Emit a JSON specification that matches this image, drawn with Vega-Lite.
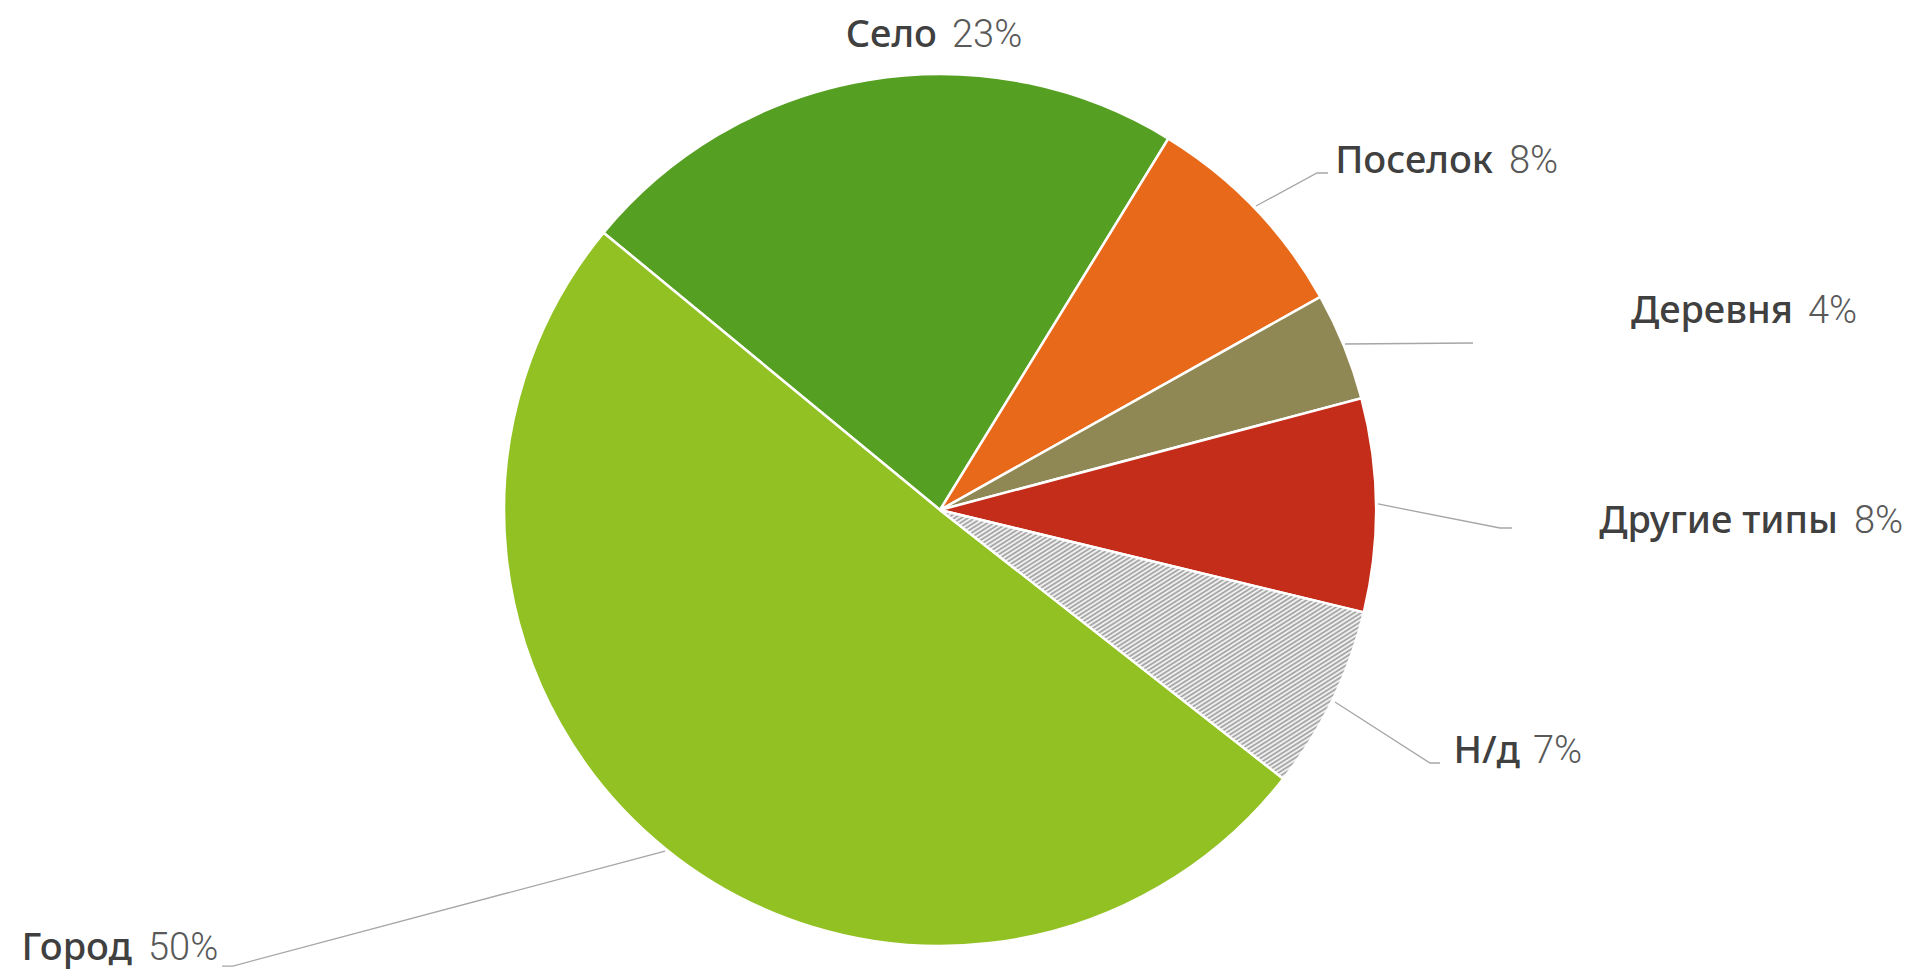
{
  "$schema": "https://vega.github.io/schema/vega-lite/v6.json",
  "width": 1912,
  "height": 971,
  "autosize": {"type": "fit", "contains": "padding"},
  "padding": 0,
  "background": "#ffffff",
  "config": {"view": {"stroke": null}},
  "datasets": {
    "slices": [
      {"category": "Село", "value": 22.8, "order": 1},
      {"category": "Поселок", "value": 8.1, "order": 2},
      {"category": "Деревня", "value": 4.0, "order": 3},
      {"category": "Другие типы", "value": 7.9, "order": 4},
      {"category": "Н/д", "value": 6.8, "order": 5},
      {"category": "Город", "value": 50.4, "order": 6}
    ],
    "labels": [
      {"name": "Село", "pct": "23%", "nx": -0.0069, "px": 0.0275, "y": 1.0619},
      {"name": "Поселок", "pct": "8%", "nx": 1.2683, "px": 1.305, "y": 0.7729},
      {"name": "Деревня", "pct": "4%", "nx": 1.9564, "px": 1.9908, "y": 0.4289},
      {"name": "Другие типы", "pct": "8%", "nx": 2.0596, "px": 2.0963, "y": -0.0528},
      {"name": "Н/д", "pct": "7%", "nx": 1.3303, "px": 1.3601, "y": -0.5803},
      {"name": "Город", "pct": "50%", "nx": -1.8532, "px": -1.8165, "y": -1.0321}
    ],
    "leaders": [
      {"label": "Поселок", "i": 0, "x": 0.7248, "y": 0.6972},
      {"label": "Поселок", "i": 1, "x": 0.8647, "y": 0.7729},
      {"label": "Поселок", "i": 2, "x": 0.8899, "y": 0.7729},
      {"label": "Деревня", "i": 0, "x": 0.9289, "y": 0.3807},
      {"label": "Деревня", "i": 1, "x": 1.2225, "y": 0.383},
      {"label": "Другие типы", "i": 0, "x": 1.0046, "y": 0.0138},
      {"label": "Другие типы", "i": 1, "x": 1.2844, "y": -0.0413},
      {"label": "Другие типы", "i": 2, "x": 1.3119, "y": -0.0413},
      {"label": "Н/д", "i": 0, "x": 0.906, "y": -0.4404},
      {"label": "Н/д", "i": 1, "x": 1.1239, "y": -0.5803},
      {"label": "Н/д", "i": 2, "x": 1.1468, "y": -0.5803},
      {"label": "Город", "i": 0, "x": -0.6307, "y": -0.7821},
      {"label": "Город", "i": 1, "x": -1.6216, "y": -1.0459},
      {"label": "Город", "i": 2, "x": -1.6468, "y": -1.0459}
    ]
  },
  "layer": [
    {
      "data": {"name": "slices"},
      "transform": [
        {"stack": "value", "groupby": [], "sort": [{"field": "order", "order": "ascending"}], "as": ["v0", "v1"]},
        {"filter": "datum.category !== 'Н/д'"}
      ],
      "mark": {"type": "arc", "outerRadius": 436, "stroke": "#ffffff", "strokeWidth": 2.5},
      "encoding": {
        "x": {"datum": 0, "type": "quantitative", "scale": {"domain": [-2.156, 2.2294], "nice": false, "zero": false}, "axis": null},
        "y": {"datum": 0, "type": "quantitative", "scale": {"domain": [-1.0573, 1.1697], "nice": false, "zero": false}, "axis": null},
        "theta": {"field": "v0", "type": "quantitative", "stack": null, "scale": {"domain": [0, 100], "range": [5.4018, 11.685]}},
        "theta2": {"field": "v1"},
        "color": {
          "field": "category",
          "type": "nominal",
          "scale": {
            "domain": ["Село", "Поселок", "Деревня", "Другие типы", "Город"],
            "range": ["#55a022", "#e8691a", "#8f8754", "#c42d19", "#92c124"]
          },
          "legend": null
        }
      }
    },
    {
      "data": {"name": "slices"},
      "transform": [
        {"stack": "value", "groupby": [], "sort": [{"field": "order", "order": "ascending"}], "as": ["v0", "v1"]},
        {"filter": "datum.category === 'Н/д'"}
      ],
      "mark": {
        "type": "arc",
        "outerRadius": 436,
        "stroke": "#ffffff",
        "strokeWidth": 2.5,
        "fill": {
          "gradient": "linear",
          "x1": 0, "y1": 0, "x2": 1, "y2": 1,
          "stops": [
            {"offset": 0, "color": "#999"},{"offset": 0.004, "color": "#fff"},{"offset": 0.008, "color": "#999"},{"offset": 0.012, "color": "#fff"},{"offset": 0.016, "color": "#999"},{"offset": 0.02, "color": "#fff"},{"offset": 0.024, "color": "#999"},{"offset": 0.028, "color": "#fff"},{"offset": 0.032, "color": "#999"},{"offset": 0.036, "color": "#fff"},
            {"offset": 0.04, "color": "#999"},{"offset": 0.044, "color": "#fff"},{"offset": 0.048, "color": "#999"},{"offset": 0.052, "color": "#fff"},{"offset": 0.056, "color": "#999"},{"offset": 0.06, "color": "#fff"},{"offset": 0.064, "color": "#999"},{"offset": 0.068, "color": "#fff"},{"offset": 0.072, "color": "#999"},{"offset": 0.076, "color": "#fff"},
            {"offset": 0.08, "color": "#999"},{"offset": 0.084, "color": "#fff"},{"offset": 0.088, "color": "#999"},{"offset": 0.092, "color": "#fff"},{"offset": 0.096, "color": "#999"},{"offset": 0.1, "color": "#fff"},{"offset": 0.104, "color": "#999"},{"offset": 0.108, "color": "#fff"},{"offset": 0.112, "color": "#999"},{"offset": 0.116, "color": "#fff"},
            {"offset": 0.12, "color": "#999"},{"offset": 0.124, "color": "#fff"},{"offset": 0.128, "color": "#999"},{"offset": 0.132, "color": "#fff"},{"offset": 0.136, "color": "#999"},{"offset": 0.14, "color": "#fff"},{"offset": 0.144, "color": "#999"},{"offset": 0.148, "color": "#fff"},{"offset": 0.152, "color": "#999"},{"offset": 0.156, "color": "#fff"},
            {"offset": 0.16, "color": "#999"},{"offset": 0.164, "color": "#fff"},{"offset": 0.168, "color": "#999"},{"offset": 0.172, "color": "#fff"},{"offset": 0.176, "color": "#999"},{"offset": 0.18, "color": "#fff"},{"offset": 0.184, "color": "#999"},{"offset": 0.188, "color": "#fff"},{"offset": 0.192, "color": "#999"},{"offset": 0.196, "color": "#fff"},
            {"offset": 0.2, "color": "#999"},{"offset": 0.204, "color": "#fff"},{"offset": 0.208, "color": "#999"},{"offset": 0.212, "color": "#fff"},{"offset": 0.216, "color": "#999"},{"offset": 0.22, "color": "#fff"},{"offset": 0.224, "color": "#999"},{"offset": 0.228, "color": "#fff"},{"offset": 0.232, "color": "#999"},{"offset": 0.236, "color": "#fff"},
            {"offset": 0.24, "color": "#999"},{"offset": 0.244, "color": "#fff"},{"offset": 0.248, "color": "#999"},{"offset": 0.252, "color": "#fff"},{"offset": 0.256, "color": "#999"},{"offset": 0.26, "color": "#fff"},{"offset": 0.264, "color": "#999"},{"offset": 0.268, "color": "#fff"},{"offset": 0.272, "color": "#999"},{"offset": 0.276, "color": "#fff"},
            {"offset": 0.28, "color": "#999"},{"offset": 0.284, "color": "#fff"},{"offset": 0.288, "color": "#999"},{"offset": 0.292, "color": "#fff"},{"offset": 0.296, "color": "#999"},{"offset": 0.3, "color": "#fff"},{"offset": 0.304, "color": "#999"},{"offset": 0.308, "color": "#fff"},{"offset": 0.312, "color": "#999"},{"offset": 0.316, "color": "#fff"},
            {"offset": 0.32, "color": "#999"},{"offset": 0.324, "color": "#fff"},{"offset": 0.328, "color": "#999"},{"offset": 0.332, "color": "#fff"},{"offset": 0.336, "color": "#999"},{"offset": 0.34, "color": "#fff"},{"offset": 0.344, "color": "#999"},{"offset": 0.348, "color": "#fff"},{"offset": 0.352, "color": "#999"},{"offset": 0.356, "color": "#fff"},
            {"offset": 0.36, "color": "#999"},{"offset": 0.364, "color": "#fff"},{"offset": 0.368, "color": "#999"},{"offset": 0.372, "color": "#fff"},{"offset": 0.376, "color": "#999"},{"offset": 0.38, "color": "#fff"},{"offset": 0.384, "color": "#999"},{"offset": 0.388, "color": "#fff"},{"offset": 0.392, "color": "#999"},{"offset": 0.396, "color": "#fff"},
            {"offset": 0.4, "color": "#999"},{"offset": 0.404, "color": "#fff"},{"offset": 0.408, "color": "#999"},{"offset": 0.412, "color": "#fff"},{"offset": 0.416, "color": "#999"},{"offset": 0.42, "color": "#fff"},{"offset": 0.424, "color": "#999"},{"offset": 0.428, "color": "#fff"},{"offset": 0.432, "color": "#999"},{"offset": 0.436, "color": "#fff"},
            {"offset": 0.44, "color": "#999"},{"offset": 0.444, "color": "#fff"},{"offset": 0.448, "color": "#999"},{"offset": 0.452, "color": "#fff"},{"offset": 0.456, "color": "#999"},{"offset": 0.46, "color": "#fff"},{"offset": 0.464, "color": "#999"},{"offset": 0.468, "color": "#fff"},{"offset": 0.472, "color": "#999"},{"offset": 0.476, "color": "#fff"},
            {"offset": 0.48, "color": "#999"},{"offset": 0.484, "color": "#fff"},{"offset": 0.488, "color": "#999"},{"offset": 0.492, "color": "#fff"},{"offset": 0.496, "color": "#999"},{"offset": 0.5, "color": "#fff"},{"offset": 0.504, "color": "#999"},{"offset": 0.508, "color": "#fff"},{"offset": 0.512, "color": "#999"},{"offset": 0.516, "color": "#fff"},
            {"offset": 0.52, "color": "#999"},{"offset": 0.524, "color": "#fff"},{"offset": 0.528, "color": "#999"},{"offset": 0.532, "color": "#fff"},{"offset": 0.536, "color": "#999"},{"offset": 0.54, "color": "#fff"},{"offset": 0.544, "color": "#999"},{"offset": 0.548, "color": "#fff"},{"offset": 0.552, "color": "#999"},{"offset": 0.556, "color": "#fff"},
            {"offset": 0.56, "color": "#999"},{"offset": 0.564, "color": "#fff"},{"offset": 0.568, "color": "#999"},{"offset": 0.572, "color": "#fff"},{"offset": 0.576, "color": "#999"},{"offset": 0.58, "color": "#fff"},{"offset": 0.584, "color": "#999"},{"offset": 0.588, "color": "#fff"},{"offset": 0.592, "color": "#999"},{"offset": 0.596, "color": "#fff"},
            {"offset": 0.6, "color": "#999"},{"offset": 0.604, "color": "#fff"},{"offset": 0.608, "color": "#999"},{"offset": 0.612, "color": "#fff"},{"offset": 0.616, "color": "#999"},{"offset": 0.62, "color": "#fff"},{"offset": 0.624, "color": "#999"},{"offset": 0.628, "color": "#fff"},{"offset": 0.632, "color": "#999"},{"offset": 0.636, "color": "#fff"},
            {"offset": 0.64, "color": "#999"},{"offset": 0.644, "color": "#fff"},{"offset": 0.648, "color": "#999"},{"offset": 0.652, "color": "#fff"},{"offset": 0.656, "color": "#999"},{"offset": 0.66, "color": "#fff"},{"offset": 0.664, "color": "#999"},{"offset": 0.668, "color": "#fff"},{"offset": 0.672, "color": "#999"},{"offset": 0.676, "color": "#fff"},
            {"offset": 0.68, "color": "#999"},{"offset": 0.684, "color": "#fff"},{"offset": 0.688, "color": "#999"},{"offset": 0.692, "color": "#fff"},{"offset": 0.696, "color": "#999"},{"offset": 0.7, "color": "#fff"},{"offset": 0.704, "color": "#999"},{"offset": 0.708, "color": "#fff"},{"offset": 0.712, "color": "#999"},{"offset": 0.716, "color": "#fff"},
            {"offset": 0.72, "color": "#999"},{"offset": 0.724, "color": "#fff"},{"offset": 0.728, "color": "#999"},{"offset": 0.732, "color": "#fff"},{"offset": 0.736, "color": "#999"},{"offset": 0.74, "color": "#fff"},{"offset": 0.744, "color": "#999"},{"offset": 0.748, "color": "#fff"},{"offset": 0.752, "color": "#999"},{"offset": 0.756, "color": "#fff"},
            {"offset": 0.76, "color": "#999"},{"offset": 0.764, "color": "#fff"},{"offset": 0.768, "color": "#999"},{"offset": 0.772, "color": "#fff"},{"offset": 0.776, "color": "#999"},{"offset": 0.78, "color": "#fff"},{"offset": 0.784, "color": "#999"},{"offset": 0.788, "color": "#fff"},{"offset": 0.792, "color": "#999"},{"offset": 0.796, "color": "#fff"},
            {"offset": 0.8, "color": "#999"},{"offset": 0.804, "color": "#fff"},{"offset": 0.808, "color": "#999"},{"offset": 0.812, "color": "#fff"},{"offset": 0.816, "color": "#999"},{"offset": 0.82, "color": "#fff"},{"offset": 0.824, "color": "#999"},{"offset": 0.828, "color": "#fff"},{"offset": 0.832, "color": "#999"},{"offset": 0.836, "color": "#fff"},
            {"offset": 0.84, "color": "#999"},{"offset": 0.844, "color": "#fff"},{"offset": 0.848, "color": "#999"},{"offset": 0.852, "color": "#fff"},{"offset": 0.856, "color": "#999"},{"offset": 0.86, "color": "#fff"},{"offset": 0.864, "color": "#999"},{"offset": 0.868, "color": "#fff"},{"offset": 0.872, "color": "#999"},{"offset": 0.876, "color": "#fff"},
            {"offset": 0.88, "color": "#999"},{"offset": 0.884, "color": "#fff"},{"offset": 0.888, "color": "#999"},{"offset": 0.892, "color": "#fff"},{"offset": 0.896, "color": "#999"},{"offset": 0.9, "color": "#fff"},{"offset": 0.904, "color": "#999"},{"offset": 0.908, "color": "#fff"},{"offset": 0.912, "color": "#999"},{"offset": 0.916, "color": "#fff"},
            {"offset": 0.92, "color": "#999"},{"offset": 0.924, "color": "#fff"},{"offset": 0.928, "color": "#999"},{"offset": 0.932, "color": "#fff"},{"offset": 0.936, "color": "#999"},{"offset": 0.94, "color": "#fff"},{"offset": 0.944, "color": "#999"},{"offset": 0.948, "color": "#fff"},{"offset": 0.952, "color": "#999"},{"offset": 0.956, "color": "#fff"},
            {"offset": 0.96, "color": "#999"},{"offset": 0.964, "color": "#fff"},{"offset": 0.968, "color": "#999"},{"offset": 0.972, "color": "#fff"},{"offset": 0.976, "color": "#999"},{"offset": 0.98, "color": "#fff"},{"offset": 0.984, "color": "#999"},{"offset": 0.988, "color": "#fff"},{"offset": 0.992, "color": "#999"},{"offset": 0.996, "color": "#fff"},
            {"offset": 1, "color": "#999"}
          ]
        }
      },
      "encoding": {
        "x": {"datum": 0, "type": "quantitative", "scale": {"domain": [-2.156, 2.2294], "nice": false, "zero": false}, "axis": null},
        "y": {"datum": 0, "type": "quantitative", "scale": {"domain": [-1.0573, 1.1697], "nice": false, "zero": false}, "axis": null},
        "theta": {"field": "v0", "type": "quantitative", "stack": null, "scale": {"domain": [0, 100], "range": [5.4018, 11.685]}},
        "theta2": {"field": "v1"}
      }
    },
    {
      "data": {"name": "leaders"},
      "mark": {"type": "line", "color": "#a6a6a6", "strokeWidth": 1.3},
      "encoding": {
        "x": {"field": "x", "type": "quantitative", "scale": {"domain": [-2.156, 2.2294], "nice": false, "zero": false}, "axis": null},
        "y": {"field": "y", "type": "quantitative", "scale": {"domain": [-1.0573, 1.1697], "nice": false, "zero": false}, "axis": null},
        "detail": {"field": "label", "type": "nominal"},
        "order": {"field": "i", "type": "quantitative"}
      }
    },
    {
      "data": {"name": "labels"},
      "mark": {"type": "text", "align": "right", "baseline": "alphabetic", "font": "Noto Sans", "fontWeight": 500, "fontSize": 38, "color": "#404040"},
      "encoding": {
        "x": {"field": "nx", "type": "quantitative", "scale": {"domain": [-2.156, 2.2294], "nice": false, "zero": false}, "axis": null},
        "y": {"field": "y", "type": "quantitative", "scale": {"domain": [-1.0573, 1.1697], "nice": false, "zero": false}, "axis": null},
        "text": {"field": "name", "type": "nominal"}
      }
    },
    {
      "data": {"name": "labels"},
      "mark": {"type": "text", "align": "left", "baseline": "alphabetic", "font": "Roboto", "fontWeight": 300, "fontSize": 38, "color": "#595959"},
      "encoding": {
        "x": {"field": "px", "type": "quantitative", "scale": {"domain": [-2.156, 2.2294], "nice": false, "zero": false}, "axis": null},
        "y": {"field": "y", "type": "quantitative", "scale": {"domain": [-1.0573, 1.1697], "nice": false, "zero": false}, "axis": null},
        "text": {"field": "pct", "type": "nominal"}
      }
    }
  ]
}
